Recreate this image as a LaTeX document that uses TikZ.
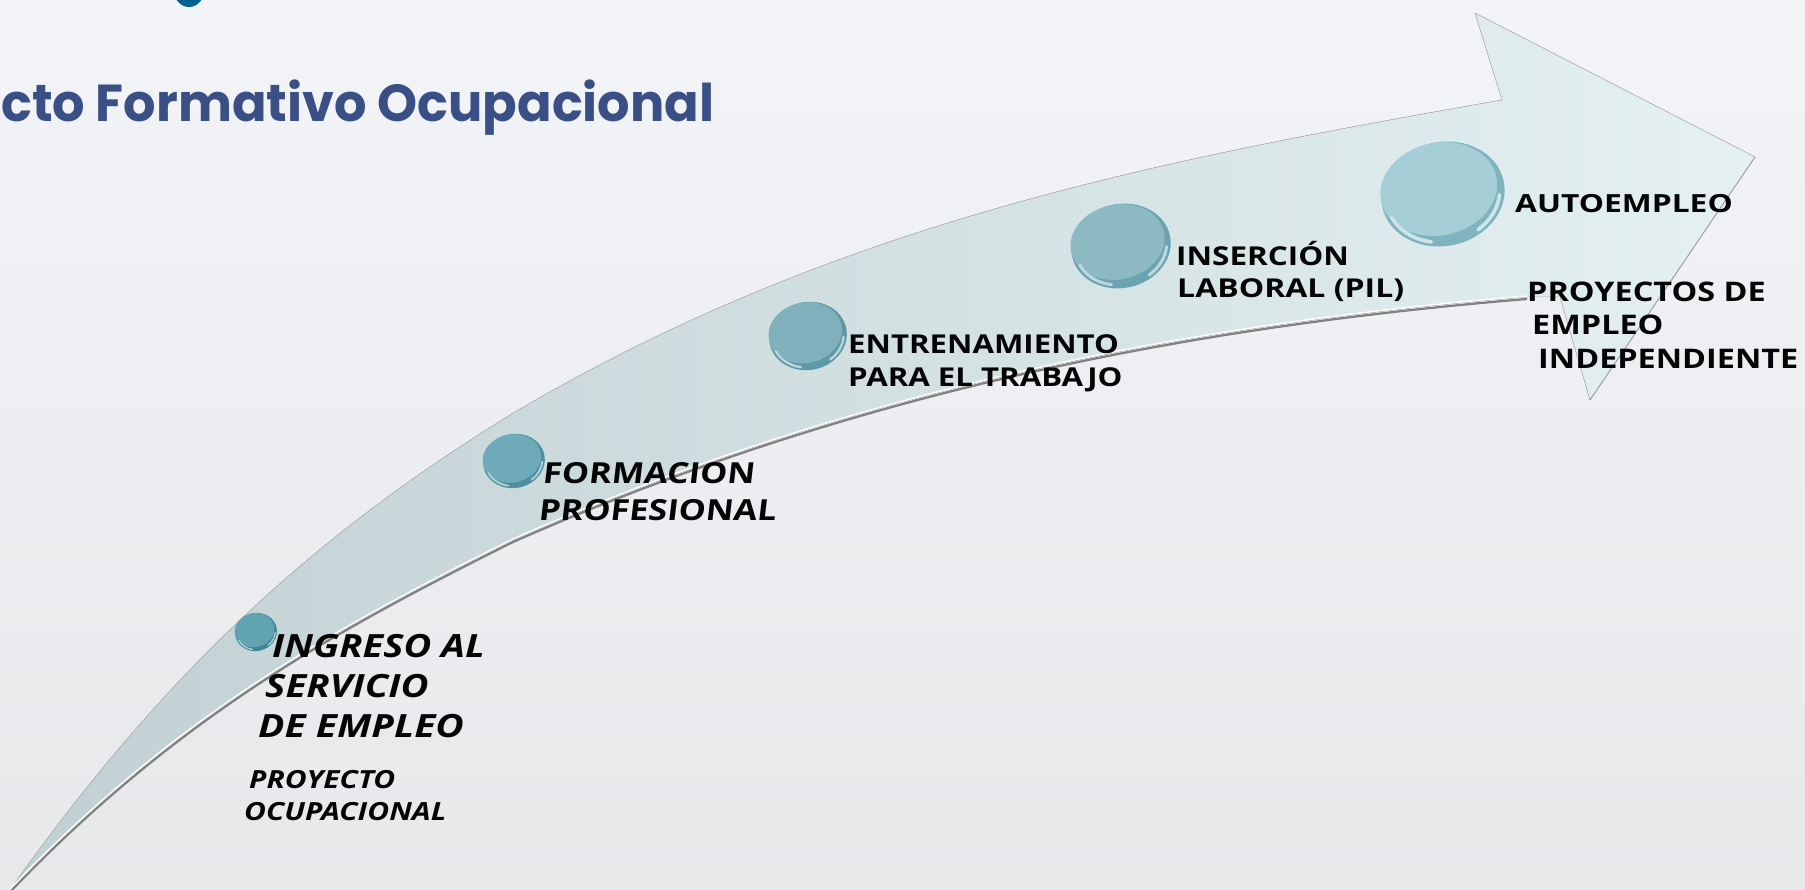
\documentclass[tikz,border=0pt]{standalone}
\usepackage{fontspec}
\setmainfont{Open Sans}
\newfontfamily\titlefont{Poppins}
\newfontfamily\slantfont[FakeSlant=0.1]{Open Sans}
\usetikzlibrary{calc}
\definecolor{inkc}{HTML}{050505}
\definecolor{titlec}{HTML}{3A4F85}
\definecolor{bgtop}{HTML}{F3F4F8}
\definecolor{bgbot}{HTML}{E7E8EA}
\definecolor{logoc}{HTML}{00628F}
\definecolor{bodyl}{HTML}{C1D0D3}
\definecolor{bodym}{HTML}{C9D8DA}
\definecolor{bodyr}{HTML}{E4F0F1}
\tikzset{
 x=1pt,y=-1pt,
 lbl/.style={anchor=base west,inner sep=0pt,text=inkc,font=\fontsize{#1}{#1}\selectfont\bfseries},
 lbli/.style={anchor=base west,inner sep=0pt,text=inkc,font=\fontsize{#1}{#1}\selectfont\bfseries\itshape},
 lbls/.style={anchor=base west,inner sep=0pt,text=inkc,font=\slantfont\fontsize{#1}{#1}\selectfont\bfseries},
}
\newcommand{\wide}[1]{\scalebox{1.2}[1]{#1}}
% the lower edge of the arrow, from the notch to the tail point
\newcommand{\loweredge}{(1527,297) .. controls (1187,325) and (853,390) .. (513,540) .. controls (343,625) and (180,712) .. (10,890)}
% ball: #1 centre, #2 rx, #3 ry, #4 dark, #5 face
\newcommand{\ball}[5]{%
 \begin{scope}[shift={#1},rotate=12]
  \fill[#4] (0,0) ellipse [x radius=#2,y radius=#3];
  \fill[#5] (-0.05*#2,-0.11*#3) ellipse [x radius=.95*#2,y radius=.89*#3];
  \draw[white!45!#5,line width=.07*#3,line cap=round] ({.92*#2*cos(15)},{.92*#3*sin(15)}) arc [start angle=15,end angle=62,x radius=.92*#2,y radius=.92*#3];
  \draw[white!45!#5,line width=.07*#3,line cap=round] ({.92*#2*cos(112)},{.92*#3*sin(112)}) arc [start angle=112,end angle=165,x radius=.92*#2,y radius=.92*#3];
 \end{scope}}
\begin{document}
\begin{tikzpicture}
\useasboundingbox (0,0) rectangle (1805,890);
\clip (0,0) rectangle (1805,890);
\fill[top color=bgtop,bottom color=bgbot] (0,0) rectangle (1805,890);
% logo fragment
\fill[logoc] (189,-12) ellipse [x radius=16,y radius=19];
% lower-edge shadow
\draw[black!50,line width=2.2pt,shift={(0,2)}] \loweredge;
% arrow body
\fill[left color=bodyl,middle color=bodym,right color=bodyr,draw=black!30,line width=.5pt,line join=miter]
 (10,890) .. controls (180,649) and (340,520) .. (510,415) .. controls (840,219) and (1172,158) .. (1502,100)
 -- (1475,13) -- (1755,157) -- (1590,400) -- (1560,297) -- \loweredge -- cycle;
\draw[white!85!bodyr,line width=1.5pt,shift={(0,-1)}] \loweredge;
\draw[black!40,line width=.7pt] (1755,157) -- (1590,400);
% balls
\definecolor{b1d}{HTML}{3F8595}\definecolor{b1f}{HTML}{62A3B2}
\definecolor{b2d}{HTML}{4F909F}\definecolor{b2f}{HTML}{6FAAB8}
\definecolor{b3d}{HTML}{5C98A6}\definecolor{b3f}{HTML}{7FB0BB}
\definecolor{b4d}{HTML}{6AA4B0}\definecolor{b4f}{HTML}{8CB9C2}
\definecolor{b5d}{HTML}{7FB4BF}\definecolor{b5f}{HTML}{A6CED6}
\ball{(256,632)}{21}{19}{b1d}{b1f}
\ball{(514,461)}{31}{27}{b2d}{b2f}
\ball{(808,336)}{39}{34}{b3d}{b3f}
\ball{(1121,246)}{50}{42}{b4d}{b4f}
\ball{(1443,194)}{62}{52}{b5d}{b5f}
% title
\node[anchor=base west,inner sep=0pt,text=titlec,font=\titlefont\fontsize{52}{52}\selectfont\bfseries] (title) at (1,122) {\scalebox{.98}[1]{cto Formativo Ocupacional}};
% labels
\node[lbli=32] (l1a) at (272,657) {\scalebox{1.19}[1]{INGRESO AL}};
\node[lbli=32] (l1b) at (265,697) {\wide{SERVICIO}};
\node[lbli=32] (l1c) at (258,737) {\scalebox{1.22}[1]{DE EMPLEO}};
\node[lbli=25] (l1d) at (249,788) {\wide{PROYECTO}};
\node[lbli=25] (l1e) at (244,820) {\wide{OCUPACIONAL}};
\node[lbls=29] (l2a) at (542,483) {\scalebox{1.18}[1]{FORMACION}};
\node[lbls=29] (l2b) at (538,520) {\scalebox{1.18}[1]{PROFESIONAL}};
\node[lbl=26] (l3a) at (848,354) {\wide{ENTRENAMIENTO}};
\node[lbl=26] (l3b) at (848,387) {\wide{PARA EL TRABAJO}};
\node[lbl=26] (l4a) at (1176,266) {\scalebox{1.21}[1]{INSERCIÓN}};
\node[lbl=26] (l4b) at (1177,298) {\scalebox{1.23}[1]{LABORAL (PIL)}};
\node[lbl=25] (l5a) at (1515,213) {\scalebox{1.27}[1]{AUTOEMPLEO}};
\node[lbl=27] (l6a) at (1527,302) {\wide{PROYECTOS DE}};
\node[lbl=27] (l6b) at (1532,335) {\wide{EMPLEO}};
\node[lbl=27] (l6c) at (1538,369) {\wide{INDEPENDIENTE}};
\end{tikzpicture}
\end{document}
